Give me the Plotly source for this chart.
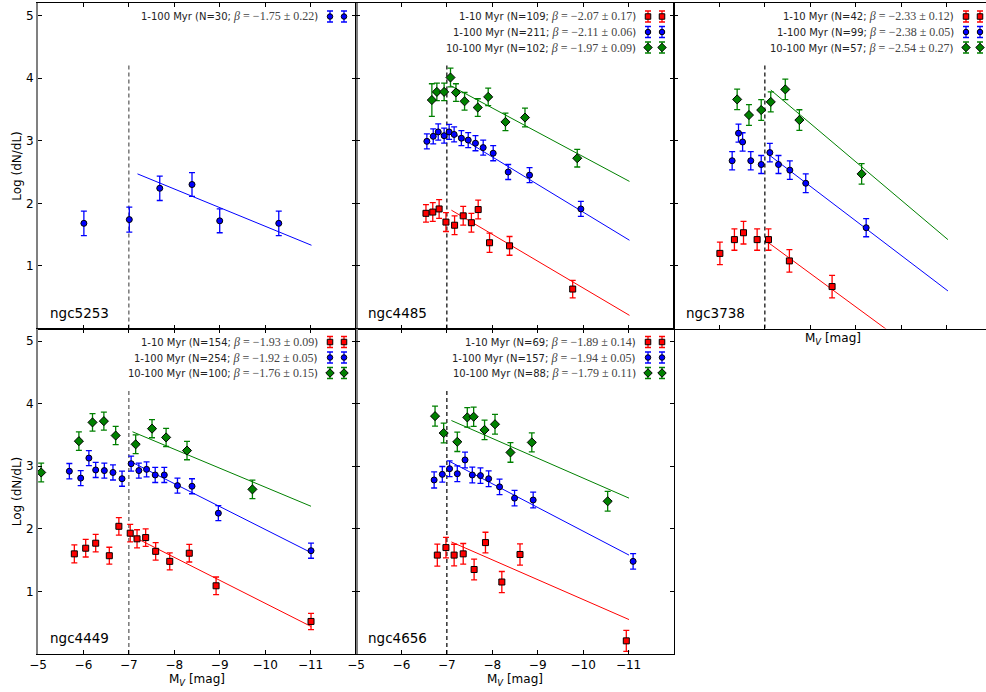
import plotly.graph_objects as go

# ---------------- data ----------------
# ngc5253
n5253_b_mag = [-6.01, -7.01, -7.68, -8.39, -9.00, -10.30]
n5253_b_y = [1.68, 1.74, 2.24, 2.30, 1.72, 1.68]
n5253_b_err = [0.195, 0.20, 0.195, 0.19, 0.19, 0.195]
n5253_b_fit_mag = [-7.19, -11.02]
n5253_b_fit_y = [2.47, 1.33]

# ngc4485
n4485_r_mag = [-6.54, -6.69, -6.83, -6.98, -7.17, -7.36, -7.54, -7.69, -7.94, -8.38, -9.77]
n4485_r_y = [1.84, 1.86, 1.91, 1.70, 1.65, 1.80, 1.69, 1.90, 1.37, 1.32, 0.63]
n4485_r_err = [0.14, 0.15, 0.15, 0.15, 0.15, 0.15, 0.15, 0.15, 0.155, 0.15, 0.14]
n4485_r_fit_mag = [-7.10, -11.02]
n4485_r_fit_y = [1.89, 0.21]
n4485_b_mag = [-6.56, -6.70, -6.81, -6.94, -7.05, -7.16, -7.32, -7.47, -7.63, -7.80, -8.02, -8.35, -8.82, -9.95]
n4485_b_y = [2.99, 3.07, 3.14, 3.08, 3.14, 3.10, 3.04, 3.01, 2.96, 2.89, 2.80, 2.50, 2.45, 1.91]
n4485_b_err = [0.12, 0.12, 0.13, 0.12, 0.12, 0.12, 0.12, 0.12, 0.12, 0.12, 0.12, 0.12, 0.12, 0.12]
n4485_b_fit_mag = [-7.05, -11.02]
n4485_b_fit_y = [3.16, 1.41]
n4485_g_mag = [-6.67, -6.78, -6.94, -7.08, -7.20, -7.39, -7.68, -7.91, -8.29, -8.72, -9.87]
n4485_g_y = [3.65, 3.78, 3.78, 4.01, 3.77, 3.63, 3.53, 3.70, 3.30, 3.37, 2.72]
n4485_g_err = [0.26, 0.14, 0.14, 0.15, 0.14, 0.14, 0.14, 0.14, 0.14, 0.15, 0.14]
n4485_g_fit_mag = [-7.08, -11.02]
n4485_g_fit_y = [3.88, 2.35]

# ngc3738
n3738_r_mag = [-6.01, -6.33, -6.53, -6.83, -7.08, -7.54, -8.48]
n3738_r_y = [1.20, 1.42, 1.53, 1.42, 1.42, 1.08, 0.67]
n3738_r_err = [0.18, 0.17, 0.18, 0.17, 0.17, 0.18, 0.18]
n3738_r_fit_mag = [-7.08, -11.02]
n3738_r_fit_y = [1.37, -0.73]
n3738_b_mag = [-6.28, -6.42, -6.51, -6.69, -6.92, -7.11, -7.30, -7.55, -7.90, -9.23]
n3738_b_y = [2.68, 3.12, 2.98, 2.68, 2.62, 2.81, 2.62, 2.53, 2.32, 1.61]
n3738_b_err = [0.147, 0.144, 0.147, 0.147, 0.144, 0.147, 0.144, 0.147, 0.15, 0.144]
n3738_b_fit_mag = [-7.08, -11.03]
n3738_b_fit_y = [2.78, 0.60]
n3738_g_mag = [-6.39, -6.65, -6.92, -7.13, -7.45, -7.76, -9.13]
n3738_g_y = [3.66, 3.41, 3.49, 3.62, 3.82, 3.33, 2.47]
n3738_g_err = [0.163, 0.165, 0.165, 0.16, 0.163, 0.165, 0.165]
n3738_g_fit_mag = [-7.13, -11.03]
n3738_g_fit_y = [3.81, 1.42]

# ngc4449
n4449_r_mag = [-5.80, -6.05, -6.27, -6.57, -6.78, -7.03, -7.18, -7.37, -7.59, -7.90, -8.33, -8.92, -11.01]
n4449_r_y = [1.60, 1.69, 1.77, 1.57, 2.04, 1.93, 1.84, 1.86, 1.64, 1.48, 1.61, 1.09, 0.52]
n4449_r_err = [0.144, 0.14, 0.14, 0.135, 0.14, 0.14, 0.145, 0.14, 0.14, 0.135, 0.14, 0.14, 0.13]
n4449_r_fit_mag = [-7.03, -11.01]
n4449_r_fit_y = [1.90, 0.44]
n4449_b_mag = [-5.69, -5.94, -6.12, -6.27, -6.46, -6.65, -6.85, -7.05, -7.22, -7.39, -7.58, -7.78, -8.07, -8.39, -8.97, -11.01]
n4449_b_y = [2.92, 2.81, 3.13, 2.94, 2.93, 2.90, 2.80, 3.04, 2.93, 2.95, 2.86, 2.86, 2.69, 2.68, 2.25, 1.65]
n4449_b_err = [0.123, 0.12, 0.12, 0.12, 0.12, 0.12, 0.12, 0.12, 0.12, 0.12, 0.12, 0.12, 0.12, 0.12, 0.12, 0.12]
n4449_b_fit_mag = [-7.05, -11.01]
n4449_b_fit_y = [3.07, 1.62]
n4449_g_mag = [-5.07, -5.90, -6.20, -6.45, -6.71, -7.15, -7.51, -7.82, -8.28, -9.72]
n4449_g_y = [2.90, 3.40, 3.70, 3.72, 3.49, 3.35, 3.60, 3.46, 3.25, 2.63]
n4449_g_err = [0.15, 0.147, 0.14, 0.145, 0.145, 0.15, 0.145, 0.145, 0.147, 0.147]
n4449_g_fit_mag = [-7.08, -11.01]
n4449_g_fit_y = [3.55, 2.36]

# ngc4656
n4656_r_mag = [-6.79, -6.98, -7.16, -7.36, -7.60, -7.85, -8.21, -8.61, -10.95]
n4656_r_y = [1.58, 1.70, 1.58, 1.60, 1.35, 1.78, 1.15, 1.59, 0.21]
n4656_r_err = [0.176, 0.163, 0.173, 0.165, 0.165, 0.165, 0.168, 0.17, 0.168]
n4656_r_fit_mag = [-7.10, -11.01]
n4656_r_fit_y = [1.79, 0.55]
n4656_b_mag = [-6.72, -6.90, -7.06, -7.23, -7.40, -7.56, -7.74, -7.92, -8.16, -8.49, -8.90, -11.10]
n4656_b_y = [2.78, 2.87, 2.96, 2.88, 3.10, 2.86, 2.85, 2.80, 2.67, 2.49, 2.46, 1.48]
n4656_b_err = [0.128, 0.125, 0.125, 0.125, 0.125, 0.125, 0.125, 0.125, 0.125, 0.125, 0.125, 0.125]
n4656_b_fit_mag = [-7.05, -11.01]
n4656_b_fit_y = [3.08, 1.58]
n4656_g_mag = [-6.74, -6.93, -7.23, -7.45, -7.59, -7.83, -8.06, -8.40, -8.87, -10.54]
n4656_g_y = [3.80, 3.53, 3.39, 3.78, 3.79, 3.58, 3.67, 3.22, 3.38, 2.44]
n4656_g_err = [0.16, 0.157, 0.155, 0.155, 0.155, 0.155, 0.157, 0.157, 0.152, 0.157]
n4656_g_fit_mag = [-7.10, -11.01]
n4656_g_fit_y = [3.73, 2.49]

galaxies = ["ngc5253", "ngc4485", "ngc3738", "ngc4449", "ngc4656"]
age_bins = ["1-10 Myr", "1-100 Myr", "10-100 Myr"]
legend_N = {
    "ngc5253": [None, 30, None],
    "ngc4485": [109, 211, 102],
    "ngc3738": [42, 99, 57],
    "ngc4449": [154, 254, 100],
    "ngc4656": [69, 157, 88],
}
legend_beta = {
    "ngc5253": [None, "−1.75 ± 0.22", None],
    "ngc4485": ["−2.07 ± 0.17", "−2.11 ± 0.06", "−1.97 ± 0.09"],
    "ngc3738": ["−2.33 ± 0.12", "−2.38 ± 0.05", "−2.54 ± 0.27"],
    "ngc4449": ["−1.93 ± 0.09", "−1.92 ± 0.05", "−1.76 ± 0.15"],
    "ngc4656": ["−1.89 ± 0.14", "−1.94 ± 0.05", "−1.79 ± 0.11"],
}
x_tick_vals = [-5, -6, -7, -8, -9, -10, -11]
x_tick_text = ["−5", "−6", "−7", "−8", "−9", "−10", "−11"]
y_tick_vals = [1, 2, 3, 4, 5]
cut_mag = -7.0
cut_top = 4.2

series = {
    "ngc5253": [None, (n5253_b_mag, n5253_b_y, n5253_b_err, n5253_b_fit_mag, n5253_b_fit_y), None],
    "ngc4485": [(n4485_r_mag, n4485_r_y, n4485_r_err, n4485_r_fit_mag, n4485_r_fit_y),
                (n4485_b_mag, n4485_b_y, n4485_b_err, n4485_b_fit_mag, n4485_b_fit_y),
                (n4485_g_mag, n4485_g_y, n4485_g_err, n4485_g_fit_mag, n4485_g_fit_y)],
    "ngc3738": [(n3738_r_mag, n3738_r_y, n3738_r_err, n3738_r_fit_mag, n3738_r_fit_y),
                (n3738_b_mag, n3738_b_y, n3738_b_err, n3738_b_fit_mag, n3738_b_fit_y),
                (n3738_g_mag, n3738_g_y, n3738_g_err, n3738_g_fit_mag, n3738_g_fit_y)],
    "ngc4449": [(n4449_r_mag, n4449_r_y, n4449_r_err, n4449_r_fit_mag, n4449_r_fit_y),
                (n4449_b_mag, n4449_b_y, n4449_b_err, n4449_b_fit_mag, n4449_b_fit_y),
                (n4449_g_mag, n4449_g_y, n4449_g_err, n4449_g_fit_mag, n4449_g_fit_y)],
    "ngc4656": [(n4656_r_mag, n4656_r_y, n4656_r_err, n4656_r_fit_mag, n4656_r_fit_y),
                (n4656_b_mag, n4656_b_y, n4656_b_err, n4656_b_fit_mag, n4656_b_fit_y),
                (n4656_g_mag, n4656_g_y, n4656_g_err, n4656_g_fit_mag, n4656_g_fit_y)],
}

# ---------------- styling / layout ----------------
W, H = 986, 692
ML, MR, MT, MB = 38, 0, 3, 38
PW, PH = W - ML - MR, H - MT - MB          # plot area 948 x 651
PANEL_W = 318.0                             # px for 7 magnitudes
PX_PER_MAG = PANEL_W / 7.0
ROW_H = PH / 2.0

COLORS = ["#ff0000", "#0000ff", "#008000"]
SYMBOLS = ["square", "circle", "diamond"]
SIZES = [6, 6, 7]
FONT = "DejaVu Sans"
SERIF = "Liberation Serif"
cut_colors = ["#555555", "#000000", "#000000", "#555555", "#000000"]

# panel -> (row, col): row 0 top, col 0..2
positions = [(0, 0), (0, 1), (0, 2), (1, 0), (1, 1)]

fig = go.Figure()
layout = dict(
    width=W, height=H,
    margin=dict(l=ML, r=MR, t=MT, b=MB, pad=0),
    paper_bgcolor="white", plot_bgcolor="rgba(0,0,0,0)",
    showlegend=False,
    font=dict(family=FONT, size=12, color="black"),
)
annotations = []

for i, gal in enumerate(galaxies):
    row, col = positions[i]
    k = i + 1
    xa = "x" if k == 1 else f"x{k}"
    ya = "y" if k == 1 else f"y{k}"
    x0 = col * PANEL_W
    x1 = min(x0 + PANEL_W, PW)
    xmax = -5 - (x1 - x0) / PX_PER_MAG
    ydom = [0.5, 1.0] if row == 0 else [0.0, 0.5]
    layout[f"xaxis{k if k > 1 else ''}"] = dict(
        domain=[x0 / PW, x1 / PW], range=[-5, xmax], anchor=ya,
        tickmode="array", tickvals=x_tick_vals, ticktext=x_tick_text,
        ticks="inside", ticklen=4, tickwidth=1, tickcolor="black",
        showline=True, linecolor="black", linewidth=1, mirror="ticks",
        showgrid=False, zeroline=False, showticklabels=(row == 1),
        tickfont=dict(family=FONT, size=12, color="black"),
    )
    layout[f"yaxis{k if k > 1 else ''}"] = dict(
        domain=ydom, range=[0, 5.2], anchor=xa,
        tickmode="array", tickvals=y_tick_vals,
        ticks="inside", ticklen=4, tickwidth=1, tickcolor="black",
        showline=True, linecolor=("#808080" if col == 0 else "black"),
        linewidth=(2 if col == 0 else 1),
        mirror=(False if col == 2 else "ticks"),
        showgrid=False, zeroline=False, showticklabels=(col == 0),
        tickfont=dict(family=FONT, size=12, color="black"),
    )

    # cut line
    fig.add_trace(go.Scatter(x=[cut_mag, cut_mag], y=[0, cut_top], mode="lines",
                             line=dict(color=cut_colors[i], width=1.2, dash="4px,3px"),
                             xaxis=xa, yaxis=ya, hoverinfo="skip"))
    for j in range(3):
        s = series[gal][j]
        if s is None:
            continue
        mag, yv, err, fmag, fy = s
        fig.add_trace(go.Scatter(x=fmag, y=fy, mode="lines",
                                 line=dict(color=COLORS[j], width=1),
                                 xaxis=xa, yaxis=ya, hoverinfo="skip"))
        fig.add_trace(go.Scatter(
            x=mag, y=yv, mode="markers",
            marker=dict(symbol=SYMBOLS[j], size=SIZES[j], color=COLORS[j],
                        line=dict(color="black", width=1)),
            error_y=dict(type="data", array=err, symmetric=True, color=COLORS[j],
                         thickness=1.3, width=3),
            xaxis=xa, yaxis=ya))

    # panel name
    top_px = row * ROW_H
    bot_px = top_px + ROW_H
    annotations.append(dict(
        text=gal, xref="paper", yref="paper", showarrow=False,
        x=(x0 + 9.5) / PW, y=1 - (bot_px - 16) / PH, xanchor="left", yanchor="middle",
        font=dict(family=FONT, size=13.5, color="black")))

    # legend (text right, symbols right of it)
    right_px = x0 + PANEL_W
    rows_present = [j for j in range(3) if legend_N[gal][j] is not None]
    for r, j in enumerate(rows_present):
        ypx = top_px + 13.5 + 15.5 * r
        txt = (f"{age_bins[j]} (N={legend_N[gal][j]}; "
               f"<span style='font-family:{SERIF};font-size:12px;color:#444'><i>β</i> = {legend_beta[gal][j]}</span>)")
        annotations.append(dict(
            text=txt, xref="paper", yref="paper", showarrow=False,
            x=(right_px - 36) / PW, y=1 - ypx / PH, xanchor="right", yanchor="middle",
            font=dict(family=FONT, size=10, color="#222222")))
        fig.add_trace(go.Scatter(
            x=[right_px - 26, right_px - 12], y=[ypx, ypx], mode="markers",
            marker=dict(symbol=SYMBOLS[j], size=SIZES[j] - 0.5, color=COLORS[j],
                        line=dict(color="black", width=1)),
            error_y=dict(type="constant", value=5.5, color=COLORS[j], thickness=1.3, width=3),
            xaxis="x6", yaxis="y6", hoverinfo="skip", cliponaxis=False))

# overlay pixel axes for the legend keys
layout["xaxis6"] = dict(domain=[0, 1], range=[0, PW], visible=False, anchor="y6", fixedrange=True)
layout["yaxis6"] = dict(domain=[0, 1], range=[PH, 0], visible=False, anchor="x6", fixedrange=True)

# axis titles
for row in [0, 1]:
    annotations.append(dict(
        text="Log (dN/dL)", xref="paper", yref="paper", showarrow=False, textangle=-90,
        x=(17 - ML) / PW, y=1 - (row * ROW_H + ROW_H / 2) / PH, xanchor="center", yanchor="middle",
        font=dict(family=FONT, size=12, color="black")))
xlab_spots = [(0, 1, 26), (1, 1, 26), (2, 0, 10)]   # (col, row, px below panel bottom)
for col, row, off in xlab_spots:
    ypx = (row + 1) * ROW_H + off
    annotations.append(dict(
        text="M<sub><i>V</i></sub> [mag]", xref="paper", yref="paper", showarrow=False,
        x=(col * PANEL_W + PANEL_W / 2) / PW, y=1 - ypx / PH, xanchor="center", yanchor="middle",
        font=dict(family=FONT, size=12, color="black")))

layout["annotations"] = annotations
fig.update_layout(**layout)
fig.write_html("out.html")
